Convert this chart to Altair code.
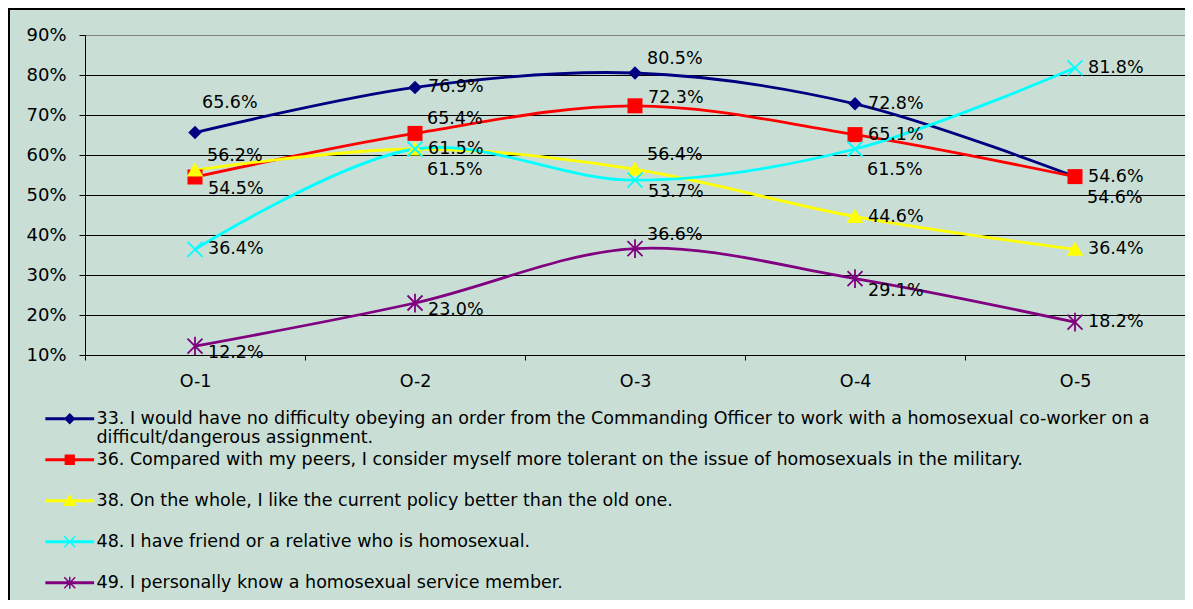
import altair as alt
import pandas as pd

# ---------------- data ----------------
categories = ["O-1", "O-2", "O-3", "O-4", "O-5"]
series_labels = [
    "33. I would have no difficulty obeying an order from the Commanding Officer to work with a homosexual co-worker on a difficult/dangerous assignment.",
    "36. Compared with my peers, I consider myself more tolerant on the issue of homosexuals in the military.",
    "38. On the whole, I like the current policy better than the old one.",
    "48. I have friend or a relative who is homosexual.",
    "49. I personally know a homosexual service member.",
]
q33 = [65.6, 76.9, 80.5, 72.8, 54.6]
q36 = [54.5, 65.4, 72.3, 65.1, 54.6]
q38 = [56.2, 61.5, 56.4, 44.6, 36.4]
q48 = [36.4, 61.5, 53.7, 61.5, 81.8]
q49 = [12.2, 23.0, 36.6, 29.1, 18.2]
y_ticks = [10, 20, 30, 40, 50, 60, 70, 80, 90]

# ---------------- styles ----------------
BG = "#C9DFD6"
FONT = "DejaVu Sans"
series_colors = ["#000080", "#FF0000", "#FFFF00", "#00FFFF", "#800080"]
marker_paths = [
    "M0,-0.9L0.9,0L0,0.9L-0.9,0Z",
    "M-1,-1H1V1H-1Z",
    "M0,-1.05L1.1,0.85H-1.1Z",
    "M-1,-1L1,1M1,-1L-1,1",
    "M-1,-1L1,1M1,-1L-1,1M0,-1.25V1.25",
]
marker_filled = [True, True, True, False, False]
legend_extent = "M0,-5.2M0,5.2"
legend_line = "M-4.3,-0.15H4.3V0.15H-4.3Z"
legend_markers = [
    "M0,-0.85L0.85,0L0,0.85L-0.85,0Z",
    "M-0.8,-0.8H0.8V0.8H-0.8Z",
    "M0,-1L1,0.8H-1Z",
    "M-1,-1L1,1M1,-1L-1,1",
    "M-1,-1L1,1M1,-1L-1,1M0,-1.1V1.1",
]
legend_paths = [legend_extent + legend_line + m for m in legend_markers]
# label placement code per point (style only)
placements = [
    ["T", "r", "t", "r", "B"],
    ["b", "t", "u", "r", "r"],
    ["t", "B", "t", "r", "r"],
    ["r", "r", "b", "B", "r"],
    ["rb", "rb", "t", "b", "r"],
]
place_offsets = {"T": (7, -30), "t": (12, -14), "u": (13, -8), "r": (13, 0),
                 "rb": (13, 7), "b": (13, 12), "B": (12, 21)}

all_values = [q33, q36, q38, q48, q49]
rows = []
for si, (lab, vals) in enumerate(zip(series_labels, all_values)):
    for c, v, p in zip(categories, vals, placements[si]):
        rows.append({"cat": c, "series": lab, "value": v, "place": p})
df = pd.DataFrame(rows)

first = series_labels[0]
cut = first.index("difficult/")
p1, p2 = first[:cut].rstrip(), first[cut:]
label_expr = f"datum.label == '{first}' ? ['{p1}', '{p2}'] : datum.label"
shape_expr = "[" + ",".join(f"'{p}'" for p in legend_paths) + "][datum.index]"
col_expr = "scale('color', datum.value)"

legend = alt.Legend(
    title=None, orient="none", legendX=-24, legendY=375, direction="vertical",
    labelFont=FONT, labelFontSize=17.5, labelColor="black", labelLimit=1200,
    labelOffset=18, symbolSize=121, rowPadding=-25, padding=0,
    labelExpr=label_expr,
    symbolType={"expr": shape_expr},
    symbolFillColor={"expr": col_expr},
    symbolStrokeColor={"expr": col_expr},
    symbolStrokeWidth=1.5, symbolOpacity=1,
)

color = alt.Color("series:N", scale=alt.Scale(domain=series_labels, range=series_colors), legend=legend)

x = alt.X("cat:N", sort=categories,
          scale=alt.Scale(type="band", domain=categories, paddingInner=0, paddingOuter=0),
          axis=alt.Axis(title=None, labelAngle=0, tickBand="extent", tickSize=5, tickColor="black",
                        domainColor="black", labelFont=FONT, labelFontSize=17.5, labelColor="black",
                        labelPadding=12, grid=False))
y = alt.Y("value:Q", scale=alt.Scale(domain=[10, 90], nice=False, zero=False),
          axis=alt.Axis(title=None, values=y_ticks, labelExpr="datum.value + '%'", tickSize=6,
                        tickColor="black", domainColor="black", labelFont=FONT, labelFontSize=18,
                        labelColor="black", labelPadding=13, grid=True,
                        gridColor={"condition": {"test": "datum.value == 90", "value": "#808080"}, "value": "black"},
                        gridOpacity=1, gridWidth=1))

base = alt.Chart(df)

frame = alt.Chart(pd.DataFrame({"f": [0]})).mark_rect(
    filled=False, stroke="black", strokeWidth=2
).encode(x=alt.value(-76), x2=alt.value(1120), y=alt.value(-26), y2=alt.value(620))

lines = base.mark_line(interpolate="catmull-rom", strokeWidth=2.8).encode(x=x, y=y, color=color)

points = []
for i, s in enumerate(series_labels):
    pl = base.transform_filter(alt.datum.series == s).mark_point(
        shape=marker_paths[i], filled=marker_filled[i], color=series_colors[i],
        size=225, opacity=1, strokeWidth=1.8
    ).encode(x=x, y=y)
    points.append(pl)

texts = []
for code, (dx, dy) in place_offsets.items():
    t = base.transform_filter(f"datum.place == '{code}'").transform_calculate(
        lbl="format(datum.value, '.1f') + '%'"
    ).mark_text(align="left", baseline="middle", dx=dx, dy=dy, font=FONT, fontSize=17.5, color="black").encode(
        x=x, y=y, text="lbl:N")
    texts.append(t)

chart = alt.layer(frame, lines, *points, *texts).properties(
    width=1100, height=320, background=BG,
    padding={"left": 77, "top": 27, "right": 0, "bottom": 245},
    autosize=alt.AutoSizeParams(type="none"),
).configure_view(stroke="#808080", strokeWidth=1, fill=BG)

chart.save("out.html", embed_options={"renderer": "svg", "actions": False})
